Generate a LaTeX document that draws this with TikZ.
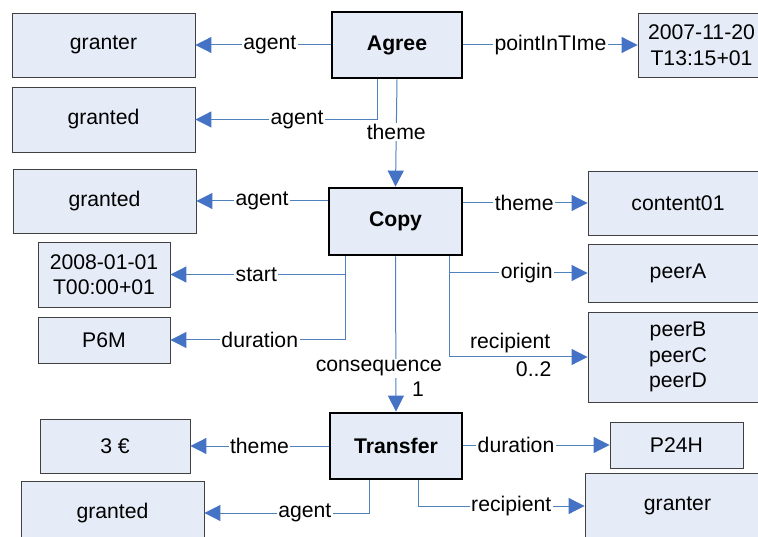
\documentclass[tikz,border=0pt]{standalone}
\usepackage{fontspec}
\setmainfont{Liberation Sans}
\usetikzlibrary{arrows.meta}
\definecolor{boxfill}{RGB}{230,236,247}
\definecolor{boxline}{RGB}{64,64,64}
\definecolor{conn}{RGB}{79,129,189}
\definecolor{tipc}{RGB}{68,114,196}
\begin{document}
\begin{tikzpicture}[x=1pt,y=-1pt,
  font=\fontsize{21.2}{25.5}\selectfont,
  valbox/.style={draw=boxline,fill=boxfill,line width=0.9pt,inner sep=0pt,align=center},
  evbox/.style={draw=black,fill=boxfill,line width=2.8pt,inner sep=0pt,font=\fontsize{21.2}{25.5}\selectfont\bfseries},
  conn/.style={draw=conn,line width=1pt,-{Triangle[length=16pt,width=16pt,color=tipc]}},
  lbl/.style={fill=white,inner sep=1.5pt,text=black},
  plain/.style={inner sep=1.5pt,text=black}]
\path[use as bounding box,clip] (0,0) rectangle (758,537);
\fill[white] (0,0) rectangle (758,537);

% event boxes
\node[evbox,minimum width=130,minimum height=66] (agree) at (397,45) {Agree};
\node[evbox,minimum width=133,minimum height=67] (copy) at (395.5,221.5) {Copy};
\node[evbox,minimum width=132,minimum height=66] (transfer) at (396,446) {Transfer};

% value boxes
\node[valbox,minimum width=183,minimum height=64] (granterA) at (103.5,45) {granter};
\node[valbox,minimum width=183,minimum height=65] (grantedA) at (103.5,119.5) {granted};
\node[valbox,minimum width=127,minimum height=64] (dateA) at (701.5,45) {2007-11-20\\T13:15+01};
\node[valbox,minimum width=183,minimum height=64] (grantedB) at (104.5,201) {granted};
\node[valbox,minimum width=132,minimum height=65] (dateB) at (104,274.5) {2008-01-01\\T00:00+01};
\node[valbox,minimum width=132,minimum height=46] (psix) at (104,340) {P6M};
\node[valbox,minimum width=180,minimum height=64] (content) at (678,203) {content01};
\node[valbox,minimum width=180,minimum height=58] (peerA) at (678,273) {peerA};
\node[valbox,minimum width=180,minimum height=90] (peers) at (678,357) {peerB\\peerC\\peerD};
\node[valbox,minimum width=150,minimum height=54] (money) at (115,446) {3 €};
\node[valbox,minimum width=183,minimum height=64] (grantedC) at (112.5,513) {granted};
\node[valbox,minimum width=133,minimum height=46] (ptwo) at (676.5,445) {P24H};
\node[valbox,minimum width=185,minimum height=66] (granterB) at (677.5,506) {granter};

% Agree connectors
\draw[conn] (agree.west |- granterA.east) -- node[lbl,pos=0.45] (l1) {agent} (granterA.east);
\coordinate (a1) at ([xshift=-20]agree.south);
\draw[conn] (a1) -- (a1 |- grantedA.east) -- node[lbl,pos=0.44] (l2) {agent} (grantedA.east);
\draw[conn] (agree.south) -- node[lbl,pos=0.49] (l3) {theme} (copy.north);
\draw[conn] (agree.east) -- node[lbl,pos=0.5] (l4) {pointInTIme} (dateA.west);

% Copy connectors
\draw[conn] (grantedB.east -| copy.west) -- node[lbl,pos=0.5] (l5) {agent} (grantedB.east);
\coordinate (c1) at ([xshift=18]copy.south west);
\draw[conn] (c1) -- (c1 |- dateB.east) -- node[lbl,pos=0.51] (l6) {start} (dateB.east);
\draw[conn] (c1) -- (c1 |- psix.east) -- node[lbl,pos=0.49] (l7) {duration} (psix.east);
\draw[conn] (copy.south) -- node[lbl,pos=0.72,xshift=-17] (l8) {consequence} (transfer.north);
\node[plain] (l8b) at (418,389) {1};
\draw[conn] (content.west -| copy.east) -- node[lbl,pos=0.49] (l9) {theme} (content.west);
\coordinate (c2) at ([xshift=-14]copy.south east);
\draw[conn] (c2) -- (c2 |- peerA.west) -- node[lbl,pos=0.56] (l10) {origin} (peerA.west);
\draw[conn] (c2) -- (c2 |- peers.west) -- node[plain,pos=0.44,above=2pt] (l11) {recipient}
   node[plain,pos=0.61,below=2.5pt] (l11b) {0..2} (peers.west);

% Transfer connectors
\draw[conn] (transfer.west) -- node[lbl,pos=0.5] (l12) {theme} (money.east);
\coordinate (t1) at ([xshift=-27]transfer.south);
\draw[conn] (t1) -- (t1 |- grantedC.east) -- node[lbl,pos=0.39] (l13) {agent} (grantedC.east);
\draw[conn] (transfer.east |- ptwo.west) -- node[lbl,pos=0.36] (l14) {duration} (ptwo.west);
\coordinate (t2) at ([xshift=22]transfer.south);
\draw[conn] (t2) -- (t2 |- granterB.west) -- node[lbl,pos=0.56] (l15) {recipient} (granterB.west);
\end{tikzpicture}
\end{document}
